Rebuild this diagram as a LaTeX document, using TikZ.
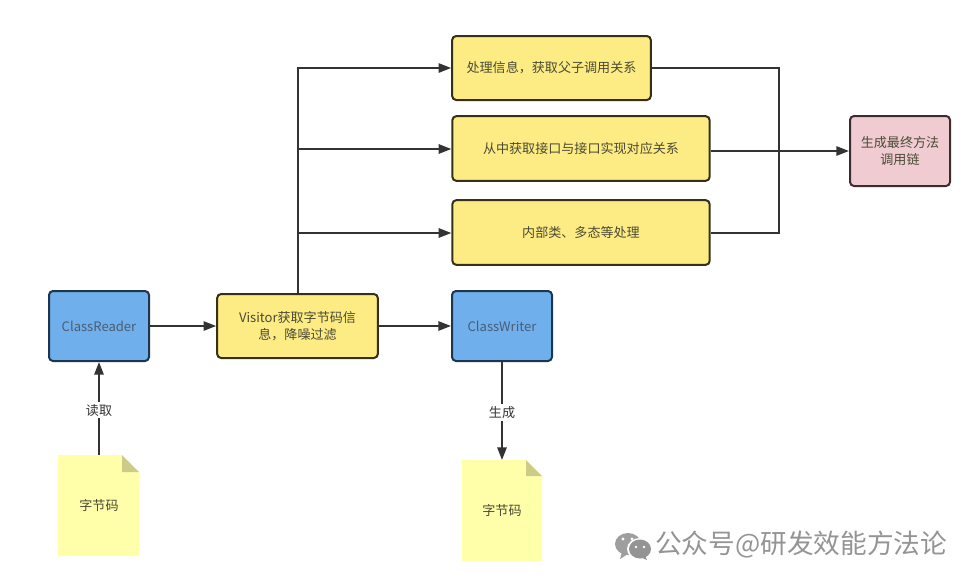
\documentclass[tikz,border=0pt]{standalone}
\usepackage{fontspec}
\setmainfont{Noto Sans CJK SC}
\usetikzlibrary{arrows.meta,positioning}
\definecolor{edge}{HTML}{333333}
\definecolor{txt}{HTML}{4A4A35}
\definecolor{yel}{HTML}{FDEB84}
\definecolor{yelline}{HTML}{36301A}
\definecolor{blu}{HTML}{6FB0EC}
\definecolor{bluline}{HTML}{1E3550}
\definecolor{pnk}{HTML}{F0CCD2}
\definecolor{pnkline}{HTML}{3C2C30}
\definecolor{doc}{HTML}{FFFFAA}
\definecolor{docfold}{HTML}{CCCC88}
\tikzset{
  x=0.75pt,y=-0.75pt,
  box/.style={rounded corners=3pt,line width=1.5pt,align=center,inner sep=0pt,font=\fontsize{9.8pt}{12.4pt}\selectfont,text=txt},
  yelbox/.style={box,draw=yelline,fill=yel},
  blubox/.style={box,draw=bluline,fill=blu,text=bluline!80!white},
  pnkbox/.style={box,draw=pnkline,fill=pnk},
  conn/.style={draw=edge,line width=1.4pt},
  arr/.style={conn,-{Triangle[length=9.5pt,width=7pt]}},
  lbl/.style={fill=white,inner sep=1.5pt,font=\fontsize{9.8pt}{12pt}\selectfont,text=edge},
  doctext/.style={inner sep=0pt,font=\fontsize{9.8pt}{12pt}\selectfont,text=txt},
  wmark/.style={inner sep=0pt,font=\fontsize{20pt}{22pt}\selectfont,text=black!42},
}
\begin{document}
\begin{tikzpicture}
\useasboundingbox (0,0) rectangle (979,583);
\node[yelbox,minimum width=149pt,minimum height=48pt] (p1) at (551.5,68) {处理信息，获取父子调用关系};
\node[yelbox,minimum width=193pt,minimum height=48.5pt] (p2) at (581,148.5) {从中获取接口与接口实现对应关系};
\node[yelbox,minimum width=193pt,minimum height=48.5pt] (p3) at (581,232.5) {内部类、多态等处理};
\node[pnkbox,minimum width=75pt,minimum height=52.5pt] (fin) at (900,151) {生成最终方法\\调用链};
\node[blubox,minimum width=75pt,minimum height=52.5pt] (cr) at (99,326) {ClassReader};
\node[yelbox,minimum width=120.5pt,minimum height=48pt] (vis) at (297.5,326) {Visitor获取字节码信\\息，降噪过滤};
\node[blubox,minimum width=75pt,minimum height=52.5pt] (cw) at (502,326) {ClassWriter};
% documents
\fill[doc] (58,455) -- (122,455) -- (139,472) -- (139,556) -- (58,556) -- cycle;
\fill[docfold] (122,455) -- (139,472) -- (122,472) -- cycle;
\fill[doc] (462,460) -- (526,460) -- (542,476) -- (542,561) -- (462,561) -- cycle;
\fill[docfold] (526,460) -- (542,476) -- (526,476) -- cycle;
\node[doctext] (d1) at (99,505.5) {字节码};
\node[doctext] (d2) at (502,510.5) {字节码};
\coordinate (d1top) at (99,455);
\coordinate (d2top) at (502,460);
\coordinate (up) at (298,68);
\coordinate (b2) at (298,149);
\coordinate (b3) at (298,233);
\coordinate (r1) at (779,68);
\coordinate (r3) at (779,233);
% connectors
\draw[arr] (cr) -- (vis);
\draw[arr] (vis) -- (cw);
\draw[arr] (vis.north -| up) -- (up) -- (p1.west);
\draw[arr] (b2) -- (b2 -| p2.west);
\draw[arr] (b3) -- (b3 -| p3.west);
\draw[conn] (p1.east) -- (r1) -- (r3) -- (r3 -| p3.east);
\draw[arr] (p2.east |- fin) -- (fin.west);
\draw[arr] (d1top) -- node[lbl,pos=.48] (l1) {读取} (cr.south);
\draw[arr] (cw.south) -- node[lbl,pos=.515] (l2) {生成} (d2top);
% watermark
\begin{scope}
\fill[black!38] (628,544) ellipse [x radius=13,y radius=11];
\fill[black!38] (622,552) -- (620,559) -- (628,554) -- cycle;
\fill[white] (640,549) ellipse [x radius=13,y radius=11];
\fill[black!42] (640,549) ellipse [x radius=11,y radius=9.5];
\fill[black!42] (645,556) -- (647,560) -- (640,557) -- cycle;
\fill[white] (623,539) circle (1.7) (632,539) circle (1.7) (636,547) circle (1.4) (644,547) circle (1.4);
\end{scope}
\node[wmark,anchor=west] (wm) at (655,545) {公众号@研发效能方法论};
\end{tikzpicture}
\end{document}
